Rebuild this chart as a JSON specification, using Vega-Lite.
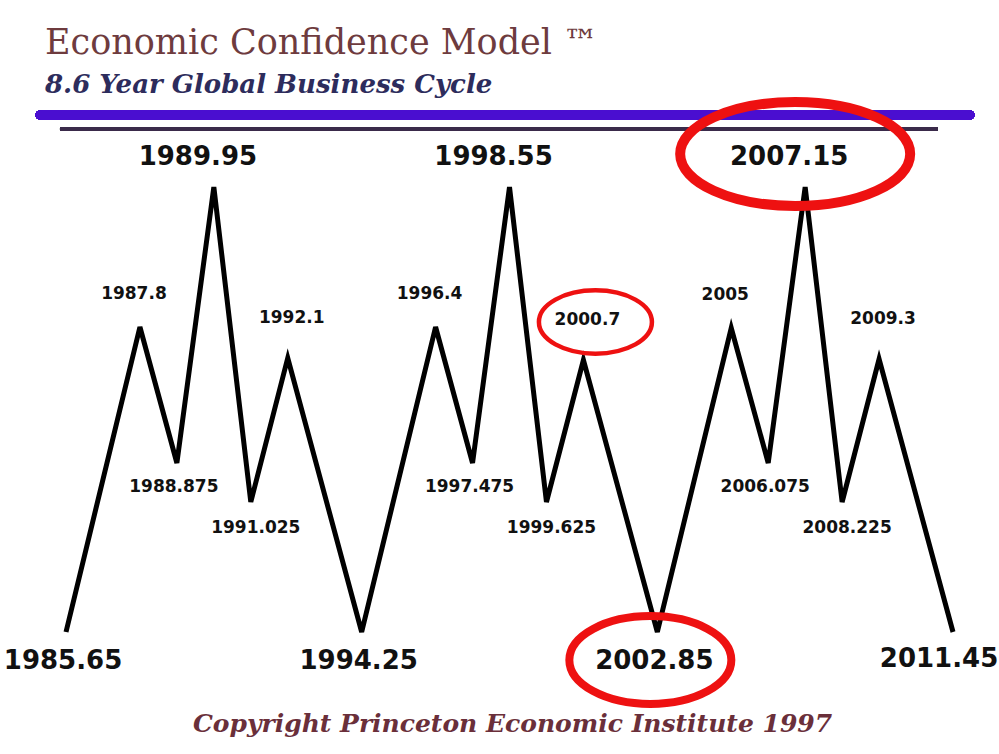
{
  "$schema": "https://vega.github.io/schema/vega-lite/v6.json",
  "autosize": {"type": "none"},
  "width": 999,
  "height": 590,
  "padding": {"left": 0, "right": 0, "top": 100, "bottom": 64},
  "background": "white",
  "config": {"view": {"stroke": null}},
  "title": {
    "text": "Economic Confidence Model ™",
    "subtitle": "8.6 Year Global Business Cycle",
    "anchor": "start",
    "frame": "group",
    "dx": 45,
    "offset": -16,
    "font": "DejaVu Serif",
    "fontSize": 35,
    "fontWeight": "normal",
    "color": "#6e3b3e",
    "subtitleFont": "DejaVu Serif",
    "subtitleFontSize": 26,
    "subtitleFontStyle": "italic",
    "subtitleFontWeight": "bold",
    "subtitleColor": "#2d2c5c",
    "subtitlePadding": 11
  },
  "data": {
    "values": [
      {"year": 1985.65, "level": 58, "label": "1985.65", "phase": "cycle low"},
      {"year": 1987.8, "level": 363, "label": "1987.8", "phase": "first peak"},
      {"year": 1988.875, "level": 227, "label": "1988.875", "phase": "first dip"},
      {"year": 1989.95, "level": 503, "label": "1989.95", "phase": "cycle high"},
      {"year": 1991.025, "level": 188, "label": "1991.025", "phase": "second dip"},
      {"year": 1992.1, "level": 332, "label": "1992.1", "phase": "second peak"},
      {"year": 1994.25, "level": 58, "label": "1994.25", "phase": "cycle low"},
      {"year": 1996.4, "level": 363, "label": "1996.4", "phase": "first peak"},
      {"year": 1997.475, "level": 227, "label": "1997.475", "phase": "first dip"},
      {"year": 1998.55, "level": 503, "label": "1998.55", "phase": "cycle high"},
      {"year": 1999.625, "level": 188, "label": "1999.625", "phase": "second dip"},
      {"year": 2000.7, "level": 330, "label": "2000.7", "phase": "second peak"},
      {"year": 2002.85, "level": 58, "label": "2002.85", "phase": "cycle low"},
      {"year": 2005, "level": 362, "label": "2005", "phase": "first peak"},
      {"year": 2006.075, "level": 227, "label": "2006.075", "phase": "first dip"},
      {"year": 2007.15, "level": 503, "label": "2007.15", "phase": "cycle high"},
      {"year": 2008.225, "level": 188, "label": "2008.225", "phase": "second dip"},
      {"year": 2009.3, "level": 331, "label": "2009.3", "phase": "second peak"},
      {"year": 2011.45, "level": 58, "label": "2011.45", "phase": "cycle low"}
    ]
  },
  "encoding": {
    "x": {
      "field": "year",
      "type": "quantitative",
      "scale": {"domain": [1983.73, 2012.788], "nice": false, "zero": false},
      "axis": {
        "title": "Copyright Princeton Economic Institute 1997",
        "labels": false,
        "ticks": false,
        "domain": false,
        "grid": false,
        "titleFont": "DejaVu Serif",
        "titleFontStyle": "italic",
        "titleFontWeight": "bold",
        "titleFontSize": 25,
        "titleColor": "#6a2f3a",
        "titlePadding": 21,
        "titleX": 512,
        "titleAlign": "center"
      }
    },
    "y": {
      "field": "level",
      "type": "quantitative",
      "scale": {"domain": [0, 590], "nice": false},
      "axis": null
    }
  },
  "layer": [
    {
      "mark": {"type": "rule", "color": "#4a0ed0", "strokeWidth": 9, "strokeCap": "round"},
      "encoding": {
        "x": {"datum": 1984.893, "type": "quantitative"},
        "x2": {"datum": 2011.944},
        "y": {"datum": 575, "type": "quantitative"}
      }
    },
    {
      "mark": {"type": "rule", "color": "#3b2b4a", "strokeWidth": 3},
      "encoding": {
        "x": {"datum": 1985.475, "type": "quantitative"},
        "x2": {"datum": 2011.013},
        "y": {"datum": 561, "type": "quantitative"}
      }
    },
    {
      "mark": {"type": "line", "color": "black", "strokeWidth": 5, "strokeJoin": "miter"}
    },
    {
      "transform": [{"filter": "datum.phase === 'cycle low' && datum.year < 2011"}],
      "mark": {"type": "text", "font": "DejaVu Sans", "fontWeight": "bold", "fontSize": 26, "color": "#111", "dy": 29, "dx": -3, "baseline": "middle"},
      "encoding": {"text": {"field": "label"}}
    },
    {
      "transform": [{"filter": "datum.year === 2011.45"}],
      "mark": {"type": "text", "font": "DejaVu Sans", "fontWeight": "bold", "fontSize": 26, "color": "#111", "dy": 27, "dx": -14, "baseline": "middle"},
      "encoding": {"text": {"field": "label"}}
    },
    {
      "transform": [{"filter": "datum.phase === 'cycle high'"}],
      "mark": {"type": "text", "font": "DejaVu Sans", "fontWeight": "bold", "fontSize": 26, "color": "#111", "dy": -30, "dx": -16, "baseline": "middle"},
      "encoding": {"text": {"field": "label"}}
    },
    {
      "transform": [{"filter": "datum.phase === 'first peak'"}],
      "mark": {"type": "text", "font": "DejaVu Sans", "fontWeight": "bold", "fontSize": 17, "color": "#111", "dy": -33, "dx": -6, "baseline": "middle"},
      "encoding": {"text": {"field": "label"}}
    },
    {
      "transform": [{"filter": "datum.phase === 'second peak'"}],
      "mark": {"type": "text", "font": "DejaVu Sans", "fontWeight": "bold", "fontSize": 17, "color": "#111", "dy": -40, "dx": 4, "baseline": "middle"},
      "encoding": {"text": {"field": "label"}}
    },
    {
      "transform": [{"filter": "datum.phase === 'first dip'"}],
      "mark": {"type": "text", "font": "DejaVu Sans", "fontWeight": "bold", "fontSize": 17, "color": "#111", "dy": 24, "dx": -3, "baseline": "middle"},
      "encoding": {"text": {"field": "label"}}
    },
    {
      "transform": [{"filter": "datum.phase === 'second dip'"}],
      "mark": {"type": "text", "font": "DejaVu Sans", "fontWeight": "bold", "fontSize": 17, "color": "#111", "dy": 26, "dx": 5, "baseline": "middle"},
      "encoding": {"text": {"field": "label"}}
    },
    {
      "transform": [{"filter": "datum.year === 2007.15"}],
      "mark": {"type": "point", "filled": false, "fill": null, "stroke": "#ee1111", "strokeWidth": 10, "opacity": 1, "size": 52900, "xOffset": -10, "yOffset": -33, "shape": "M-1,0A1,0.452,0,1,0,1,0A1,0.452,0,1,0,-1,0Z"}
    },
    {
      "transform": [{"filter": "datum.year === 2002.85"}],
      "mark": {"type": "point", "filled": false, "fill": null, "stroke": "#ee1111", "strokeWidth": 8, "opacity": 1, "size": 26244, "xOffset": -7, "yOffset": 28, "shape": "M-1,0A1,0.543,0,1,0,1,0A1,0.543,0,1,0,-1,0Z"}
    },
    {
      "transform": [{"filter": "datum.year === 2000.7"}],
      "mark": {"type": "point", "filled": false, "fill": null, "stroke": "#ee1111", "strokeWidth": 4.5, "opacity": 1, "size": 12769, "xOffset": 12, "yOffset": -38, "shape": "M-1,0A1,0.56,0,1,0,1,0A1,0.56,0,1,0,-1,0Z"}
    }
  ]
}
